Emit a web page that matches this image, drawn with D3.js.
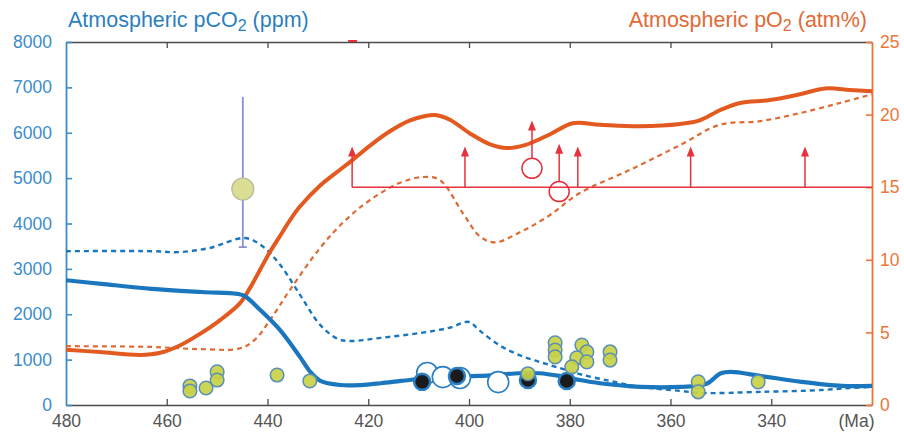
<!DOCTYPE html>
<html>
<head>
<meta charset="utf-8">
<script src="https://cdn.jsdelivr.net/npm/d3@7/dist/d3.min.js"></script>
<style>
  html, body { margin: 0; padding: 0; background: #fff; }
  svg { display: block; font-family: "Liberation Sans", Arial, sans-serif; }
</style>
</head>
<body>
<svg id="chart" width="904" height="435"></svg>
<script>
// Age ticks (Ma) and axis tick values
const ageTicks = [480, 460, 440, 420, 400, 380, 360, 340, 320];
const co2Ticks = [0, 1000, 2000, 3000, 4000, 5000, 6000, 7000, 8000];
const o2Ticks = [0, 5, 10, 15, 20, 25];

// Modelled pCO2 (ppm), solid curve
const co2Age = [480, 473, 463, 453, 446, 444.5, 441.5, 437.5, 433.5, 431.5, 429.5, 425.5, 421.5, 417.5, 413.5, 406, 398, 390, 386, 382, 378, 374, 366, 358, 353, 350, 348, 342, 334, 326, 320];
const co2Val = [2750, 2670, 2560, 2490, 2450, 2400, 2100, 1650, 1050, 730, 530, 440, 440, 480, 530, 620, 640, 700, 700, 640, 550, 480, 400, 400, 460, 700, 730, 640, 510, 420, 420];

// Alternative pCO2 (ppm), dashed curve
const co2AltAge = [480, 463, 457.5, 451.5, 444.5, 441, 437.5, 433.5, 429.5, 426, 423.5, 417.5, 409.5, 404, 400, 398, 394, 390, 386, 382, 378, 372, 366, 358, 354, 342, 330, 324.5, 320];
const co2AltVal = [3390, 3390, 3370, 3460, 3680, 3500, 3090, 2420, 1760, 1455, 1410, 1480, 1590, 1700, 1830, 1650, 1320, 1100, 950, 815, 680, 530, 400, 310, 265, 290, 330, 375, 400];

// Modelled pO2 (atm%), solid curve
const o2Age = [480, 473.3, 465.3, 461.3, 457.4, 453.4, 449.4, 445.5, 443.5, 441.5, 439.5, 437.5, 435.5, 433.6, 429.6, 425.6, 423.2, 419.7, 415.7, 411.7, 408.7, 406.8, 403.8, 399.8, 395.8, 392.5, 388.9, 383.9, 379.4, 374, 366.1, 358.1, 354.2, 350.2, 346.2, 340.3, 334.3, 329.3, 324.4, 320];
const o2Val = [3.8, 3.65, 3.45, 3.6, 4.1, 4.9, 5.85, 7.0, 8.05, 9.3, 10.55, 11.65, 12.75, 13.65, 15.1, 16.2, 16.85, 17.85, 18.85, 19.6, 19.9, 19.97, 19.65, 18.7, 17.95, 17.7, 17.9, 18.65, 19.4, 19.3, 19.2, 19.35, 19.6, 20.3, 20.8, 21.0, 21.4, 21.8, 21.7, 21.6];

// Alternative pO2 (atm%), dashed curve
const o2AltAge = [480, 463.3, 453.4, 445.5, 442.5, 439.5, 435.6, 429.6, 424.6, 419.7, 413.7, 409.1, 405.8, 401.2, 397.8, 394.8, 389.9, 384.5, 378, 368, 358.1, 350.2, 342.2, 334.3, 326.4, 320];
const o2AltVal = [4.05, 4.0, 3.85, 3.9, 4.5, 5.85, 7.9, 10.8, 12.7, 14.1, 15.3, 15.7, 15.5, 13.2, 11.6, 11.2, 11.9, 12.95, 14.6, 16.2, 17.9, 19.3, 19.55, 20.1, 20.8, 21.4];

// Proxy pCO2 estimates (ppm)
const proxyAge = [455.4, 455.4, 452.2, 450.0, 450.0, 438.1, 431.6, 388.3, 382.9, 382.9, 382.9, 377.6, 376.6, 378.6, 379.6, 376.6, 372, 372, 354.5, 354.5, 342.6];
const proxyVal = [420, 310, 375, 730, 550, 660, 530, 690, 1370, 1210, 1060, 1320, 1170, 1040, 840, 950, 1170, 990, 510, 290, 510];

// Stomatal estimates (filled) and open-circle estimates (ppm)
const stomAge = [409.3, 402.4, 388.3, 380.6];
const stomVal = [510, 640, 550, 530];
const openAge = [408.3, 405.2, 401.8, 394.2];
const openVal = [705, 615, 595, 505];

// Single estimate with error range (ppm)
const errAge = [444.9];
const errVal = [4760];
const errLow = [3480];
const errHigh = [6790];

// pO2 minimum constraints: arrows from the 15% baseline
const minO2Age = [423.2, 400.8, 378.4, 356, 333.3];
const minO2Base = 15;
const minO2Tip = 17.8;
// pO2 point estimates with arrows
const o2PtAge = [387.5, 382.1];
const o2PtVal = [16.3, 14.7];
const o2PtTip = [19.6, 18.0];

const svg = d3.select("#chart");
const padL = 66, padR = 872, padT = 42, padB = 405;

const x = d3.scaleLinear().domain([480, 320]).range([padL, padR]);
const yC = d3.scaleLinear().domain([0, 8000]).range([padB, padT]);
const yO = d3.scaleLinear().domain([0, 25]).range([padB, padT]);

const BLUE = "#1a76bd", ORANGE = "#e35a21", RED = "#e5323c";
const AX_BLUE = "#3b8ccb", AX_ORANGE = "#ec7637", GRAY = "#4a4a4a";

// ---- axes ----
const fs = "17.5px";
const gBottom = svg.append("g").attr("transform", `translate(0,${padB})`)
  .call(d3.axisBottom(x).tickValues(ageTicks).tickSizeInner(-6).tickSizeOuter(0).tickPadding(10)
    .tickFormat(d => d === 320 ? "(Ma)" : d));
gBottom.select(".domain").attr("stroke", GRAY).attr("stroke-width", 1.5);
gBottom.selectAll(".tick line").attr("stroke", GRAY).attr("stroke-width", 1.3);
gBottom.selectAll(".tick text").attr("fill", "#555").style("font-size", fs).attr("font-family", null);
gBottom.selectAll(".tick").filter(d => d === 480 || d === 320).select("line").remove();
gBottom.selectAll(".tick").filter(d => d === 320).select("text").attr("dx", -16);

const gTop = svg.append("g").attr("transform", `translate(0,${padT})`)
  .call(d3.axisTop(x).tickValues(ageTicks.filter(d => d !== 480 && d !== 320)).tickSizeInner(-6).tickSizeOuter(0).tickFormat(""));
gTop.select(".domain").attr("stroke", GRAY).attr("stroke-width", 1.5);
gTop.selectAll(".tick line").attr("stroke", GRAY).attr("stroke-width", 1.3);

const gLeft = svg.append("g").attr("transform", `translate(${padL},0)`)
  .call(d3.axisLeft(yC).tickValues(co2Ticks).tickFormat(d3.format("d")).tickSizeInner(-6).tickSizeOuter(0).tickPadding(14));
gLeft.select(".domain").attr("stroke", AX_BLUE).attr("stroke-width", 1.8);
gLeft.selectAll(".tick line").attr("stroke", AX_BLUE).attr("stroke-width", 1.6);
gLeft.selectAll(".tick text").attr("fill", AX_BLUE).style("font-size", fs).attr("font-family", null);

const gRight = svg.append("g").attr("transform", `translate(${padR},0)`)
  .call(d3.axisRight(yO).tickValues(o2Ticks).tickSizeInner(-6).tickSizeOuter(0).tickPadding(8));
gRight.select(".domain").attr("stroke", AX_ORANGE).attr("stroke-width", 1.8);
gRight.selectAll(".tick line").attr("stroke", AX_ORANGE).attr("stroke-width", 1.6);
gRight.selectAll(".tick text").attr("fill", AX_ORANGE).style("font-size", fs).attr("font-family", null);

// ---- titles ----
const t1 = svg.append("text").attr("x", 68).attr("y", 27).attr("fill", "#2b7fbf").style("font-size", "21.5px");
t1.append("tspan").text("Atmospheric pCO");
t1.append("tspan").text("2").style("font-size", "16px").attr("dy", 4);
t1.append("tspan").text(" (ppm)").attr("dy", -4);

const t2 = svg.append("text").attr("x", 867).attr("y", 27).attr("fill", "#e26a35").attr("text-anchor", "end").style("font-size", "21.5px");
t2.append("tspan").text("Atmospheric pO");
t2.append("tspan").text("2").style("font-size", "16px").attr("dy", 4);
t2.append("tspan").text(" (atm%)").attr("dy", -4);

// ---- curves ----
const lineOf = (ages, vals, ys) => d3.line()
  .x(i => x(ages[i])).y(i => ys(vals[i])).curve(d3.curveCatmullRom.alpha(0.5))(d3.range(ages.length));

svg.append("path").attr("d", lineOf(o2AltAge, o2AltVal, yO))
  .attr("fill", "none").attr("stroke", "#df6a35").attr("stroke-width", 2.2).attr("stroke-dasharray", "5,4");
svg.append("path").attr("d", lineOf(co2AltAge, co2AltVal, yC))
  .attr("fill", "none").attr("stroke", BLUE).attr("stroke-width", 2.4).attr("stroke-dasharray", "5,4");
svg.append("path").attr("d", lineOf(o2Age, o2Val, yO))
  .attr("fill", "none").attr("stroke", ORANGE).attr("stroke-width", 4);
svg.append("path").attr("d", lineOf(co2Age, co2Val, yC))
  .attr("fill", "none").attr("stroke", BLUE).attr("stroke-width", 4.2);

// ---- pO2 minimum constraints ----
const red = svg.append("g").attr("stroke", RED).attr("fill", "none").attr("stroke-width", 1.5);
red.append("line")
  .attr("x1", x(minO2Age[0])).attr("x2", x(320))
  .attr("y1", yO(minO2Base)).attr("y2", yO(minO2Base));
function arrow(age, from, to) {
  const px = x(age), y0 = yO(from), y1 = yO(to);
  red.append("line").attr("x1", px).attr("x2", px).attr("y1", y0).attr("y2", y1 + 8);
  red.append("path").attr("d", `M${px - 4},${y1 + 10}L${px},${y1}L${px + 4},${y1 + 10}Z`)
    .attr("fill", RED).attr("stroke", "none");
}
minO2Age.forEach(a => arrow(a, minO2Base, minO2Tip));
o2PtAge.forEach((a, i) => {
  const r = 10;
  red.append("circle").attr("cx", x(a)).attr("cy", yO(o2PtVal[i])).attr("r", r).attr("fill", "none");
  arrow(a, yO.invert(yO(o2PtVal[i]) - r), o2PtTip[i]);
});
// clipped mark at the top edge
svg.append("line").attr("x1", x(minO2Age[0]) - 4).attr("x2", x(minO2Age[0]) + 5)
  .attr("y1", yO(25) - 1).attr("y2", yO(25) - 1).attr("stroke", RED).attr("stroke-width", 2);

// ---- error bar estimate ----
errAge.forEach((a, i) => {
  const g = svg.append("g").attr("stroke", "#8b8fd0").attr("stroke-width", 1.8);
  g.append("line").attr("x1", x(a)).attr("x2", x(a)).attr("y1", yC(errHigh[i])).attr("y2", yC(errLow[i]));
  g.append("line").attr("x1", x(a) - 4).attr("x2", x(a) + 4).attr("y1", yC(errLow[i])).attr("y2", yC(errLow[i]));
  svg.append("circle").attr("cx", x(a)).attr("cy", yC(errVal[i])).attr("r", 11)
    .attr("fill", "#dadd92").attr("stroke", "#b8b99c").attr("stroke-width", 1.2);
});

// ---- proxy points ----
svg.append("g").selectAll("circle").data(d3.range(openAge.length)).join("circle")
  .attr("cx", i => x(openAge[i])).attr("cy", i => yC(openVal[i])).attr("r", 10.5)
  .attr("fill", "#fff").attr("stroke", "#2a7fc4").attr("stroke-width", 1.6);
svg.append("g").selectAll("circle").data(d3.range(stomAge.length)).join("circle")
  .attr("cx", i => x(stomAge[i])).attr("cy", i => yC(stomVal[i])).attr("r", 8)
  .attr("fill", "#1b1b1b").attr("stroke", "#2a7fc4").attr("stroke-width", 2.5);
svg.append("g").selectAll("circle").data(d3.range(proxyAge.length)).join("circle")
  .attr("cx", i => x(proxyAge[i])).attr("cy", i => yC(proxyVal[i])).attr("r", 6.8)
  .attr("fill", "#c9d146").attr("fill-opacity", 0.92).attr("stroke", "#5b8fb6").attr("stroke-width", 1.5);
</script>
</body>
</html>
